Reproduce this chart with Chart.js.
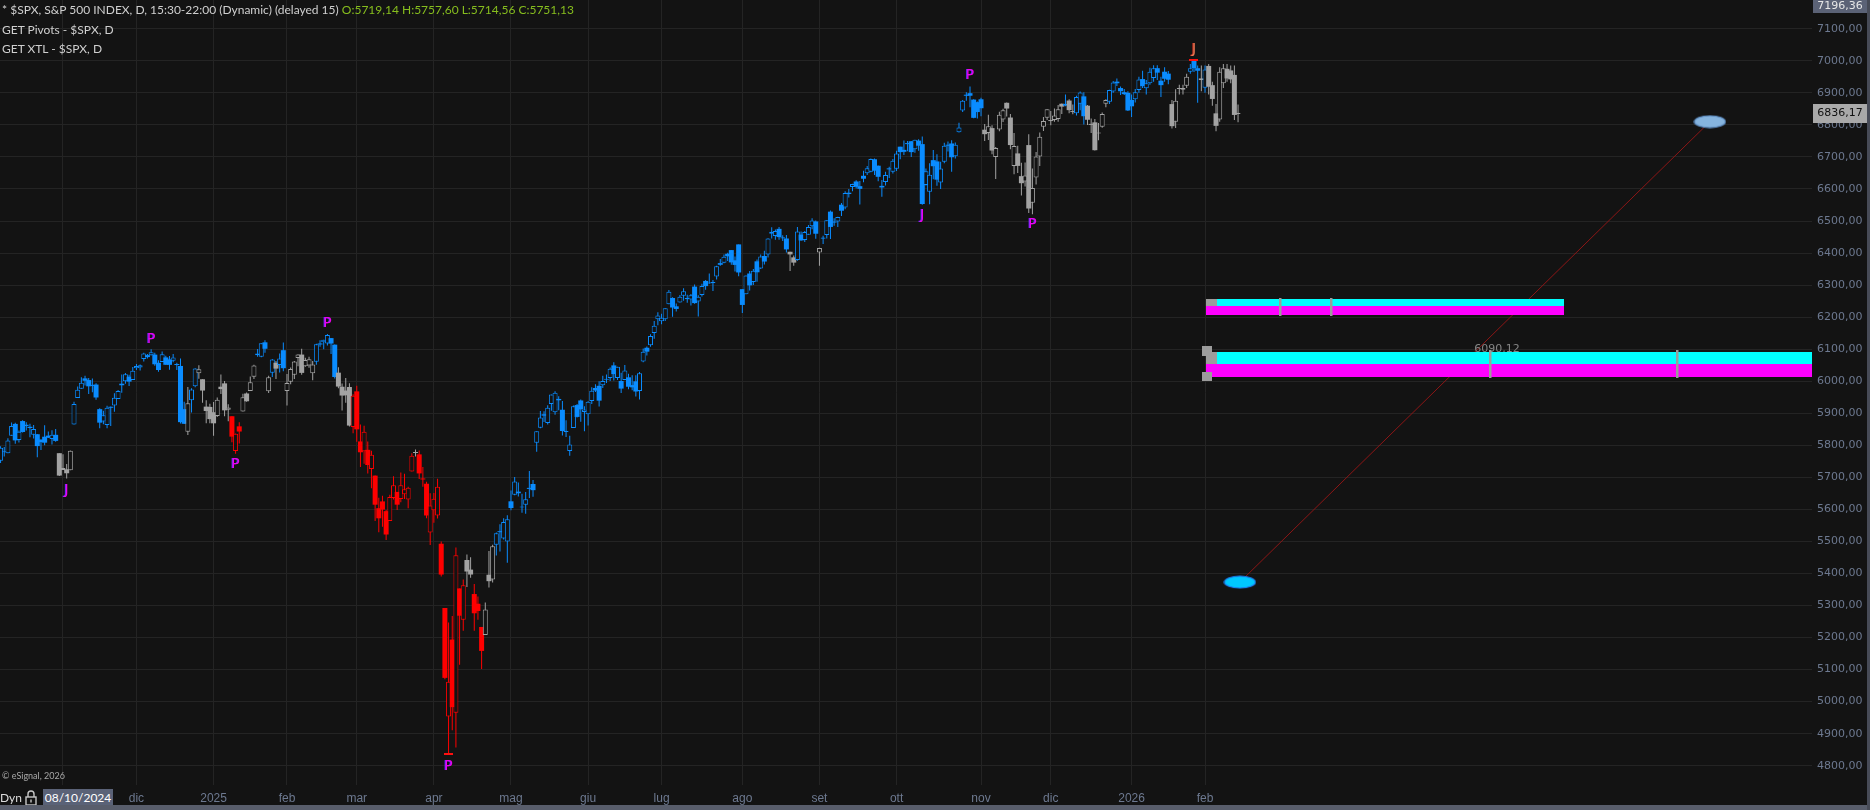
<!DOCTYPE html>
<html><head><meta charset="utf-8">
<script src="https://cdn.jsdelivr.net/npm/chart.js@4.4.1/dist/chart.umd.min.js"></script>
<style>
html,body{margin:0;padding:0;background:#131313;overflow:hidden;}
#wrap{position:relative;width:1870px;height:810px;background:#131313;overflow:hidden;}
#c{position:absolute;left:0;top:0;}
.t{position:absolute;white-space:nowrap;font-family:'Lato',sans-serif;font-size:12px;line-height:14px;color:#cfcfcf;}
</style></head><body>
<div id="wrap">
<canvas id="c" width="1870" height="810"></canvas>
<div class="t" style="left:2px;top:3px;">* $SPX, S&amp;P 500 INDEX, D, 15:30-22:00 (Dynamic) (delayed 15) <span style="color:#86bd1e">O:5719,14 H:5757,60 L:5714,56 C:5751,13</span></div>
<div class="t" style="left:2px;top:23px;">GET Pivots - $SPX, D</div>
<div class="t" style="left:2px;top:42px;">GET XTL - $SPX, D</div>
<div class="t" style="left:2px;top:770px;font-size:9px;line-height:12px;color:#a8a8a8;">© eSignal, 2026</div>
<div class="t" style="left:0px;top:791px;color:#dcdcdc;">Dyn</div>
<svg style="position:absolute;left:25px;top:789px" width="12" height="17" viewBox="0 0 12 17"><path d="M3 8 V5 a3 3 0 0 1 6 0 V8" fill="none" stroke="#c8c8c8" stroke-width="1.4"/><rect x="1" y="8" width="10" height="8" fill="none" stroke="#c8c8c8" stroke-width="1.4"/><rect x="5.3" y="10.5" width="1.4" height="3" fill="#c8c8c8"/></svg>
<div class="t" style="left:43px;top:789px;width:70px;height:17px;line-height:17px;background:#5a6277;color:#ffffff;text-align:center;">08/10/2024</div>
<div style="position:absolute;left:0;top:805px;width:1870px;height:5px;background:#585d6b;"></div>
<div style="position:absolute;left:1867px;top:0;width:3px;height:810px;background:#474b57;"></div>
</div>
<script>
// ---- Trading sessions: S&P 500 daily OHLC, one array per month (from 08/10/2024) ----
const oct24 = [
[5719.14,5757.60,5714.56,5751.13],[5751.80,5796.80,5745.02,5792.04],[5778.36,5795.03,5764.76,5780.05],[5775.09,5822.13,5775.09,5815.03],
[5829.81,5871.41,5829.81,5859.85],[5866.74,5870.36,5804.48,5815.26],[5816.58,5846.52,5808.34,5842.47],[5875.62,5878.46,5840.25,5841.47],
[5859.43,5872.17,5846.11,5864.67],[5857.82,5866.92,5824.80,5853.98],[5832.70,5863.04,5821.17,5851.20],[5834.50,5834.85,5762.41,5797.42],
[5817.80,5817.80,5784.92,5809.86],[5826.75,5862.82,5799.98,5808.12],[5830.20,5842.92,5823.08,5823.52],[5819.68,5847.19,5802.17,5832.92],
[5832.65,5850.94,5811.28,5813.67],[5775.34,5775.34,5703.85,5705.45]];
const nov24 = [
[5723.22,5772.05,5723.22,5728.80],[5725.15,5741.43,5696.51,5712.69],[5722.43,5783.44,5722.10,5782.76],[5864.89,5936.14,5864.89,5929.04],
[5947.21,5983.84,5947.21,5973.10],[5976.76,6012.45,5976.76,5995.54],[6008.86,6017.31,5986.69,6001.35],[6003.60,6009.92,5960.08,5983.99],
[5985.75,6008.19,5965.91,5985.38],[5989.58,5993.88,5942.28,5949.17],[5912.79,5915.26,5853.01,5870.62],[5874.17,5908.12,5865.95,5893.62],
[5863.68,5923.12,5853.03,5916.98],[5917.11,5920.67,5860.58,5917.11],[5924.37,5962.35,5905.00,5948.71],[5944.36,5972.90,5944.36,5969.34],
[5992.28,6020.75,5963.91,5987.37],[6000.03,6025.42,5992.27,6021.63],[6014.11,6020.16,5984.87,5998.74],[6003.98,6044.17,6003.98,6032.38]];
const dec24 = [
[6040.11,6053.58,6035.33,6047.15],[6042.97,6052.03,6033.39,6049.88],[6069.39,6088.51,6061.14,6086.49],[6081.38,6085.19,6070.86,6075.11],
[6081.10,6099.97,6079.98,6090.27],[6083.01,6088.51,6048.63,6052.85],[6057.59,6065.40,6029.89,6034.91],[6060.15,6092.59,6060.15,6084.19],
[6074.29,6079.68,6051.25,6051.25],[6068.17,6078.58,6035.77,6051.09],[6063.79,6085.19,6059.14,6074.08],[6052.55,6057.68,6035.19,6050.61],
[6047.65,6070.67,5867.79,5872.16],[5912.71,5935.52,5866.07,5867.08],[5842.00,5982.06,5832.30,5930.85],[5940.25,5978.25,5902.57,5974.07],
[5984.63,6040.10,5981.44,6040.04],[6024.97,6049.75,6007.37,6037.59],[6006.17,6006.17,5932.95,5970.84],[5920.67,5940.79,5869.16,5906.94],
[5919.74,5929.74,5868.86,5881.63]];
const jan25 = [
[5903.26,5935.09,5829.53,5868.55],[5891.07,5949.34,5888.66,5942.47],[5982.81,6021.04,5960.01,5975.38],[5993.26,6000.68,5890.68,5909.03],
[5910.66,5927.89,5874.78,5918.25],[5890.66,5890.66,5809.45,5827.04],[5782.34,5836.63,5773.31,5836.22],[5859.15,5871.92,5805.58,5842.91],
[5905.21,5960.61,5905.21,5949.91],[5961.71,5964.69,5935.72,5937.34],[5969.44,6014.96,5969.44,5996.66],[6014.12,6051.51,6006.88,6049.24],
[6081.39,6100.81,6076.13,6086.37],[6076.32,6118.73,6074.67,6118.71],[6121.43,6128.18,6088.74,6101.24],[5969.04,6017.17,5962.92,6012.28],
[6026.01,6069.14,6012.96,6067.70],[6057.70,6062.83,6007.06,6039.31],[6050.75,6086.64,6027.46,6071.17],[6096.79,6120.91,6030.93,6040.53]];
const feb25 = [
[5969.65,6022.13,5923.93,5994.57],[5998.14,6042.48,5990.87,6037.88],[6020.45,6062.86,6007.06,6061.48],[6072.22,6084.03,6046.83,6083.57],
[6083.13,6101.28,6019.96,6025.99],[6046.40,6073.38,6044.84,6066.44],[6049.32,6076.28,6042.34,6068.50],[6025.08,6063.00,6003.00,6051.97],
[6060.59,6116.91,6051.00,6115.07],[6115.52,6127.47,6107.62,6114.63],[6121.60,6129.63,6099.51,6129.58],[6117.76,6147.43,6111.15,6144.15],
[6134.50,6134.50,6084.59,6117.52],[6114.10,6114.82,6008.56,6013.13],[6026.69,6043.65,5977.83,5983.25],[5982.73,5992.65,5908.49,5955.25],
[5970.87,6009.82,5932.69,5956.06],[5981.88,5993.69,5858.78,5861.57],[5856.74,5959.40,5837.66,5954.50]];
const mar25 = [
[5968.33,5986.09,5810.91,5849.72],[5811.98,5865.08,5732.59,5778.15],[5781.41,5860.59,5742.35,5842.63],[5785.87,5812.08,5711.64,5738.52],
[5726.01,5783.01,5666.29,5770.20],[5705.37,5705.37,5564.02,5614.56],[5603.65,5636.30,5528.41,5572.07],[5624.84,5642.19,5546.09,5599.30],
[5594.45,5597.78,5504.65,5521.52],[5563.85,5645.27,5563.85,5638.94],[5635.60,5703.52,5631.12,5675.12],[5654.53,5654.53,5597.76,5614.66],
[5632.37,5715.33,5622.20,5675.29],[5646.92,5711.15,5632.32,5662.89],[5630.73,5670.84,5603.10,5667.56],[5718.08,5775.14,5718.08,5767.57],
[5775.86,5786.95,5764.75,5776.65],[5771.66,5783.62,5694.41,5712.20],[5695.64,5732.28,5670.94,5693.31],[5679.98,5685.89,5572.42,5580.94],
[5527.91,5650.57,5488.73,5611.85]];
const apr25 = [
[5597.53,5650.97,5558.52,5633.07],[5580.76,5695.31,5571.48,5670.97],[5492.74,5499.53,5390.83,5396.52],[5292.14,5292.14,5069.90,5074.08],
[4953.79,5246.57,4835.04,5062.25],[5193.57,5267.47,4910.42,4982.77],[4965.28,5481.34,4856.59,5456.90],[5353.15,5353.15,5115.27,5268.05],
[5255.56,5381.46,5220.77,5363.36],[5441.96,5459.46,5358.02,5405.97],[5411.99,5450.41,5386.44,5396.63],[5335.75,5367.24,5220.79,5275.70],
[5305.45,5328.31,5255.58,5282.70],[5232.94,5232.94,5101.63,5158.20],[5207.67,5309.60,5207.67,5287.76],[5395.92,5469.69,5356.37,5375.86],
[5381.38,5489.40,5371.96,5484.77],[5489.73,5528.11,5455.86,5525.21],[5529.22,5553.66,5468.64,5528.75],[5508.87,5571.95,5505.70,5560.83],
[5499.44,5581.84,5433.24,5569.06]];
const may25 = [
[5625.14,5658.91,5597.35,5604.14],[5645.94,5700.70,5644.43,5686.67],[5655.32,5683.47,5640.00,5650.38],[5605.88,5649.00,5589.08,5606.91],
[5614.52,5654.00,5586.26,5631.28],[5663.94,5720.10,5635.08,5663.94],[5679.21,5691.68,5639.41,5659.91],[5807.57,5844.19,5779.77,5844.19],
[5854.77,5906.63,5853.19,5886.55],[5896.68,5906.39,5872.84,5892.58],[5869.81,5924.60,5865.21,5916.93],[5929.09,5958.62,5907.53,5958.38],
[5902.88,5968.61,5895.69,5963.60],[5944.66,5953.06,5909.26,5940.46],[5910.92,5938.37,5830.91,5844.61],[5841.26,5878.08,5825.82,5842.01],
[5781.89,5829.51,5767.41,5802.82],[5854.07,5924.33,5854.07,5921.54],[5925.54,5929.00,5886.81,5888.55],[5939.92,5943.13,5873.80,5912.17],
[5903.67,5922.14,5843.66,5911.69]];
const jun25 = [
[5896.68,5937.40,5861.43,5935.94],[5938.56,5981.35,5929.00,5970.37],[5978.94,5990.48,5966.11,5970.81],[5985.67,5999.70,5921.20,5939.30],
[5987.06,6016.87,5978.63,6000.36],[6004.60,6021.31,5994.18,6005.88],[6009.91,6043.01,6000.26,6038.81],[6049.38,6059.40,6002.32,6022.24],
[6009.90,6045.43,6003.88,6045.26],[6000.56,6026.16,5963.21,5976.97],[6004.00,6050.83,6004.00,6033.11],[6012.15,6023.25,5974.80,5982.72],
[5987.93,6018.25,5971.89,5980.87],[5999.67,6018.20,5952.56,5967.84],[5969.67,6028.81,5943.23,6025.17],[6061.21,6101.80,6059.42,6092.18],
[6104.42,6108.51,6080.16,6092.16],[6112.10,6146.52,6107.25,6141.02],[6150.70,6187.68,6132.35,6173.07],[6193.36,6215.08,6174.97,6204.95]];
const jul25 = [
[6187.25,6210.78,6177.97,6198.01],[6193.35,6227.60,6188.29,6227.42],[6240.10,6284.65,6240.10,6279.35],[6259.75,6262.33,6201.45,6229.98],
[6233.71,6242.70,6217.84,6225.52],[6245.55,6269.35,6245.55,6263.26],[6266.46,6290.22,6251.39,6280.46],[6255.68,6269.75,6245.06,6259.75],
[6255.15,6272.43,6236.05,6268.56],[6295.25,6302.04,6241.94,6243.76],[6248.85,6268.49,6201.59,6263.70],[6269.36,6304.43,6264.39,6297.36],
[6313.00,6315.61,6285.27,6296.79],[6304.74,6336.08,6303.79,6305.60],[6306.60,6316.12,6281.71,6309.62],[6326.90,6360.64,6317.49,6358.91],
[6368.60,6381.31,6360.57,6363.35],[6370.01,6395.82,6368.53,6388.64],[6397.69,6401.07,6375.08,6389.77],[6409.26,6409.26,6363.24,6370.86],
[6377.39,6389.08,6342.59,6362.90],[6427.02,6427.02,6327.96,6339.39]];
const aug25 = [
[6287.29,6287.29,6212.69,6238.01],[6271.71,6329.94,6271.71,6329.94],[6336.11,6343.93,6282.89,6299.19],[6309.52,6349.94,6300.00,6345.06],
[6374.17,6379.66,6310.40,6340.00],[6351.40,6395.16,6350.12,6389.45],[6390.73,6407.04,6364.06,6373.45],[6395.17,6446.55,6385.76,6445.76],
[6460.11,6480.28,6445.02,6466.58],[6453.30,6473.66,6441.13,6468.54],[6475.51,6481.34,6441.77,6449.80],[6445.02,6455.35,6437.50,6449.15],
[6445.46,6456.48,6401.78,6411.37],[6404.01,6404.01,6343.87,6395.78],[6386.57,6392.61,6360.65,6370.17],[6378.39,6481.34,6375.58,6466.91],
[6457.67,6466.89,6438.06,6439.32],[6440.85,6468.59,6434.49,6465.94],[6457.37,6487.70,6457.37,6481.40],[6483.64,6508.23,6474.05,6501.86],
[6498.63,6501.38,6444.71,6460.26]];
const sep25 = [
[6401.51,6416.54,6360.58,6415.54],[6444.31,6453.67,6428.04,6448.26],[6456.55,6502.54,6445.34,6502.08],[6529.22,6532.65,6443.98,6481.50],
[6498.09,6508.61,6485.33,6495.15],[6498.69,6513.03,6481.16,6512.61],[6550.89,6555.97,6515.68,6532.04],[6541.82,6592.99,6537.00,6587.47],
[6588.30,6600.21,6573.67,6584.29],[6606.32,6616.62,6592.50,6615.28],[6623.42,6626.99,6601.83,6606.76],[6608.76,6624.81,6551.15,6600.35],
[6641.17,6656.79,6620.84,6631.96],[6649.00,6671.82,6643.22,6664.36],[6653.89,6695.45,6651.90,6693.75],[6692.71,6695.04,6643.86,6656.92],
[6672.61,6673.09,6623.98,6637.97],[6609.66,6627.80,6575.76,6604.72],[6621.87,6654.04,6611.11,6643.70],[6661.62,6669.06,6634.53,6661.21],
[6654.04,6693.68,6648.22,6688.46]];
const oct25 = [
[6663,6719,6656,6711],[6732,6732,6693,6715],[6722,6751,6706,6716],[6740,6750,6718,6740],[6749,6750,6700,6715],[6724,6754,6713,6754],
[6751,6755,6719,6735],[6740,6764,6551,6553],[6612,6664,6611,6655],[6591,6680,6552,6644],[6690,6722,6630,6671],[6686,6708,6610,6629],
[6620,6685,6600,6664],[6685,6744,6680,6735],[6736,6748,6717,6735],[6742,6752,6654,6699],[6702,6745,6695,6738],[6777,6807,6776,6792],
[6845,6878,6840,6875],[6894,6902,6875,6891],[6899,6920,6855,6891],[6879,6880,6821,6822],[6871,6873,6820,6840]];
const nov25 = [
[6880,6885,6827,6852],[6785,6803,6750,6771],[6775,6832,6753,6796],[6790,6799,6708,6720],[6700,6731,6631,6728],[6786,6841,6780,6832],
[6817,6850,6809,6846],[6869,6870,6826,6851],[6823,6834,6724,6737],[6672,6775,6646,6734],[6711,6735,6650,6672],[6640,6682,6580,6618],
[6623,6683,6608,6642],[6737,6771,6525,6539],[6557,6664,6521,6603],[6636,6715,6614,6701],[6701,6776,6672,6763],[6794,6825,6781,6812],
[6822,6849,6815,6849]];
const dec25 = [
[6813,6843,6799,6812],[6815,6851,6810,6829],[6818,6862,6810,6849],[6866,6867,6834,6857],[6860,6895,6858,6866],[6876,6880,6836,6846],
[6840,6864,6833,6840],[6836,6891,6829,6887],[6866,6904,6846,6901],[6889,6902,6801,6827],[6860,6862,6800,6816],[6803,6820,6775,6800],
[6808,6818,6720,6721],[6773,6806,6752,6775],[6794,6839,6791,6834],[6866,6880,6855,6878],[6872,6910,6865,6909],[6904,6937,6900,6932],
[6935,6945,6921,6930],[6915,6920,6893,6905],[6902,6912,6893,6896],[6900,6905,6843,6845]];
const jan26 = [
[6878,6895,6825,6858],[6880,6912,6870,6902],[6909,6950,6900,6942],[6943,6969,6915,6921],[6914,6940,6895,6930],[6930,6978,6925,6966],
[6946,6986,6935,6977],[6977,6986,6940,6963],[6938,6950,6887,6924],[6966,6980,6935,6944],[6960,6968,6927,6941],[6865,6878,6789,6796],
[6810,6911,6790,6875],[6912,6925,6895,6913],[6910,6925,6895,6915],[6922,6960,6915,6950],[6966,6990,6960,6977],[7002,7002,6965,6977],
[6977,6985,6869,6969],[6945,6985,6905,6940]];
const feb26 = [
[6916,6985,6900,6973],[6984,6990,6895,6919],[6924,6935,6860,6881],[6836,6865,6780,6797],[6817,6980,6810,6966],[6930,6990,6915,6977],
[6975,6990,6935,6945],[6970,6985,6930,6942],[6956,6985,6815,6831],[6834,6864,6808,6836.17]];

// trend state per session: B = up (blue), G = neutral (grey), R = down (red)
const trendOct24 = "BBBBBBBBBBBBBBBBBG";
const trendNov24 = "GGGBBBBBBBBBBBBBBBBB";
const trendDec24 = "BBBBBBBBBBBBBBGBBGGGG";
const trendJan25 = "GGGGGRRRGGGGBBBGBGBB";
const trendFeb25 = "GGGGGGGGBBBBBBGGGGR";
const trendMar25 = "RRRRRRRRRRRRRRRRGRRRR";
const trendApr25 = "RRRRRRRRRGGRRRGGGBBBB";
const trendMay25 = "BBBBBBBBBBBBBBBBBBBBB";
const trendJun25 = "BBBBBBBBBBBBBBBBBBBB";
const trendJul25 = "BBBBBBBBBBBBBBBBBBBBBB";
const trendAug25 = "BBBBBBBBBBBBBGGBBBBBB";
const trendSep25 = "GBBBBBBBBBBBBBBBBBBBB";
const trendOct25 = "BBBBBBBBBBBBBBBBBBBBBBB";
const trendNov25 = "BGGGGGGGGGGGGGGGGGG";
const trendDec25 = "GGGGBGGBBBGGGGGGBBBBBB";
const trendJan26 = "BBBBBBBBBBBGGGGGBBBG";
const trendFeb26 = "BGGGGGGGGG";

const monthNames = ['nov','dic','2025','feb','mar','apr','mag','giu','lug','ago','set','ott','nov','dic','2026','feb'];
const priceTicks = [4800,4900,5000,5100,5200,5300,5400,5500,5600,5700,5800,5900,6000,6100,6200,6300,6400,6500,6600,6700,6800,6900,7000,7100];

// pivot labels (session index, price level)
const pivots = [
  {i:19, v:5660, t:'J', k:'m'}, {i:42, v:6132, t:'P', k:'m'}, {i:65, v:5741, t:'P', k:'m'},
  {i:90, v:6182, t:'P', k:'m'}, {i:123, v:4797, t:'P', k:'m'}, {i:252, v:6517, t:'J', k:'m'},
  {i:265, v:6956, t:'P', k:'m'}, {i:282, v:6488, t:'P', k:'m'}, {i:326, v:7036, t:'J', k:'o'}];
const pivotTicks = [{i:123, v:4835}, {i:326, v:7002}];
// projection zones: [from slot, to slot, top, middle, bottom]
const zones = [[329.3, 426.8, 6256.6, 6234.7, 6207.6],[329.3, 500, 6092.0, 6053.7, 6013.1]];
const zoneBlocks = [[329.3, 332.4, 6256.6, 6234.7],[329.3, 332.4, 6092.0, 6053.7],[328.2, 330.9, 6110, 6079],[328.2, 330.9, 6029, 6001]];
const zoneTicks = [[349.4, 6203, 6259],[363.3, 6203, 6259],[406.6, 6010, 6097],[457.5, 6010, 6097]];
const zoneLabel = {i:408.5, v:6100, text:'6090,12'};
const xtl = [{x:338.5, y:5373},{x:466.5, y:6810}];
const lastPrice = 6836.17, topPrice = '7196,36';

// ---- build ----
const months = [oct24,nov24,dec24,jan25,feb25,mar25,apr25,may25,jun25,jul25,aug25,sep25,oct25,nov25,dec25,jan26,feb26];
const trends = [trendOct24,trendNov24,trendDec24,trendJan25,trendFeb25,trendMar25,trendApr25,trendMay25,trendJun25,trendJul25,trendAug25,trendSep25,trendOct25,trendNov25,trendDec25,trendJan26,trendFeb26];
const ohlc = [].concat(...months);
const trend = trends.join('');
const monthStarts = [];
{ let n = 0; months.forEach((m, k) => { if (k > 0) monthStarts.push(n); n += m.length; }); }

const BG = '#131313', COL = {B:'#0a8cff', G:'#a3a3a3', R:'#ff0000'};
const colr = ohlc.map((d, i) => COL[trend[i]] || COL.G);
const wicks = ohlc.map((d, i) => ({x:i, y:[d[2], d[1]]}));
const bodies = ohlc.map((d, i) => ({x:i, y:[d[0], d[3]]}));
const hollow = ohlc.map(d => d[3] > d[0]);

function ellipse(fill, stroke) {
  const c = document.createElement('canvas'); c.width = 33; c.height = 14;
  const g = c.getContext('2d');
  g.beginPath(); g.ellipse(16.5, 7, 15.5, 6, 0, 0, Math.PI*2);
  g.fillStyle = fill; g.fill(); g.lineWidth = 1.2; g.strokeStyle = stroke; g.stroke();
  return c;
}

const annot = {
  id: 'annot',
  afterDatasetsDraw(chart) {
    const {ctx, chartArea: a, scales: {x, y}} = chart;
    ctx.save();
    ctx.beginPath(); ctx.rect(a.left, a.top, a.right - a.left, a.bottom - a.top); ctx.clip();
    ctx.font = '11px "DejaVu Sans"'; ctx.fillStyle = '#858585'; ctx.textAlign = 'center'; ctx.textBaseline = 'middle';
    ctx.fillText(zoneLabel.text, x.getPixelForValue(zoneLabel.i), y.getPixelForValue(zoneLabel.v));
    zones.forEach(z => {
      const x0 = Math.round(x.getPixelForValue(z[0])), x1 = Math.round(x.getPixelForValue(z[1]));
      const yt = Math.round(y.getPixelForValue(z[2])), ym = Math.round(y.getPixelForValue(z[3])), yb = Math.round(y.getPixelForValue(z[4]));
      ctx.fillStyle = '#00ffff'; ctx.fillRect(x0, yt, x1 - x0, ym - yt);
      ctx.fillStyle = '#ff00ff'; ctx.fillRect(x0, ym, x1 - x0, yb - ym);
    });
    ctx.fillStyle = '#9c9c9c';
    zoneBlocks.forEach(b => {
      const x0 = Math.round(x.getPixelForValue(b[0])), x1 = Math.round(x.getPixelForValue(b[1]));
      const y0 = Math.round(y.getPixelForValue(b[2])), y1 = Math.round(y.getPixelForValue(b[3]));
      ctx.fillRect(x0, y0, x1 - x0, y1 - y0);
    });
    zoneTicks.forEach(t => {
      const px = Math.round(x.getPixelForValue(t[0]));
      const y0 = Math.round(y.getPixelForValue(t[2])), y1 = Math.round(y.getPixelForValue(t[1]));
      ctx.fillRect(px - 1, y0, 2.5, y1 - y0);
    });
    ctx.fillStyle = '#ff1010';
    pivotTicks.forEach(p => {
      const px = x.getPixelForValue(p.i), py = y.getPixelForValue(p.v);
      ctx.fillRect(Math.round(px - 4.5), Math.round(py - 1), 9, 2);
    });
    ctx.font = '14px "DejaVu Sans"'; ctx.textAlign = 'center'; ctx.textBaseline = 'middle';
    pivots.forEach(p => {
      const px = x.getPixelForValue(p.i), py = y.getPixelForValue(p.v);
      if (p.k === 'm') {
        ctx.fillStyle = '#6a2cff'; ctx.fillText(p.t, px - 1, py);
        ctx.fillStyle = '#ee00ee'; ctx.fillText(p.t, px, py);
      } else {
        ctx.fillStyle = '#c83020'; ctx.fillText(p.t, px - 1, py);
        ctx.fillStyle = '#ee7a55'; ctx.fillText(p.t, px, py);
      }
    });
    ctx.restore();
  },
  afterDraw(chart) {
    const {ctx, chartArea: a, scales: {y}} = chart;
    ctx.save();
    ctx.font = '11px "DejaVu Sans"'; ctx.textAlign = 'center'; ctx.textBaseline = 'middle';
    ctx.fillStyle = '#5b6276'; ctx.fillRect(a.right + 1, 0, 54, 13);
    ctx.fillStyle = '#e6e6e6'; ctx.fillText(topPrice, a.right + 28, 6.5);
    const py = Math.round(y.getPixelForValue(lastPrice));
    ctx.fillStyle = '#a9a9a9'; ctx.fillRect(a.right + 1, py - 9, 54, 19);
    ctx.fillStyle = '#101010'; ctx.fillText(lastPrice.toFixed(2).replace('.', ','), a.right + 28, py + 0.5);
    ctx.restore();
  }
};

function noPad(s) { s.paddingTop = 0; s.paddingBottom = 0; s.paddingLeft = 0; s.paddingRight = 0; }

Chart.defaults.font.family = '"DejaVu Sans", sans-serif';
new Chart(document.getElementById('c'), {
  type: 'bar',
  data: {
    datasets: [
      {type:'bar', data: bodies, order: 1, grouped: false, barThickness: 5, minBarLength: 1, borderSkipped: false,
       backgroundColor: ohlc.map((d, i) => hollow[i] ? BG : colr[i]), borderColor: colr,
       borderWidth: ohlc.map((d, i) => hollow[i] ? 1 : 0), inflateAmount: 0},
      {type:'bar', data: wicks, order: 2, grouped: false, barThickness: 1, borderSkipped: false,
       backgroundColor: colr, borderWidth: 0, inflateAmount: 0},
      {type:'scatter', data: xtl, order: 3, pointStyle: [ellipse('#00c8ff', '#1c7cf0'), ellipse('#86b4de', '#5e8ec4')], pointRadius: 7},
      {type:'line', data: xtl, order: 4, borderColor: '#8c1616', borderWidth: 1, pointRadius: 0, fill: false}
    ]
  },
  options: {
    responsive: false, animation: false, devicePixelRatio: 1,
    layout: {padding: 0, autoPadding: false},
    plugins: {legend: {display: false}, tooltip: {enabled: false}},
    scales: {
      x: {type: 'linear', min: 0.844, max: 494.3, offset: false,
          grid: {color: '#242424', drawTicks: false, offset: false}, border: {display: false},
          afterBuildTicks: s => { s.ticks = monthStarts.map(v => ({value: v})); },
          afterFit: s => { s.height = 25; noPad(s); },
          ticks: {autoSkip: false, maxRotation: 0, padding: 6, color: '#6d7990',
                  font: {family: '"Liberation Sans"', size: 12},
                  callback: (v, i) => monthNames[i]}},
      y: {type: 'linear', position: 'right', min: 4739.7, max: 7189.8,
          grid: {color: '#242424', drawTicks: false}, border: {display: false},
          afterBuildTicks: s => { s.ticks = priceTicks.map(v => ({value: v})); },
          afterFit: s => { s.width = 58; noPad(s); },
          ticks: {padding: 5, color: '#6d7990', crossAlign: 'near', font: {family: '"DejaVu Sans"', size: 11},
                  callback: v => v.toFixed(2).replace('.', ',')}}
    }
  },
  plugins: [annot]
});
</script>
</body></html>
